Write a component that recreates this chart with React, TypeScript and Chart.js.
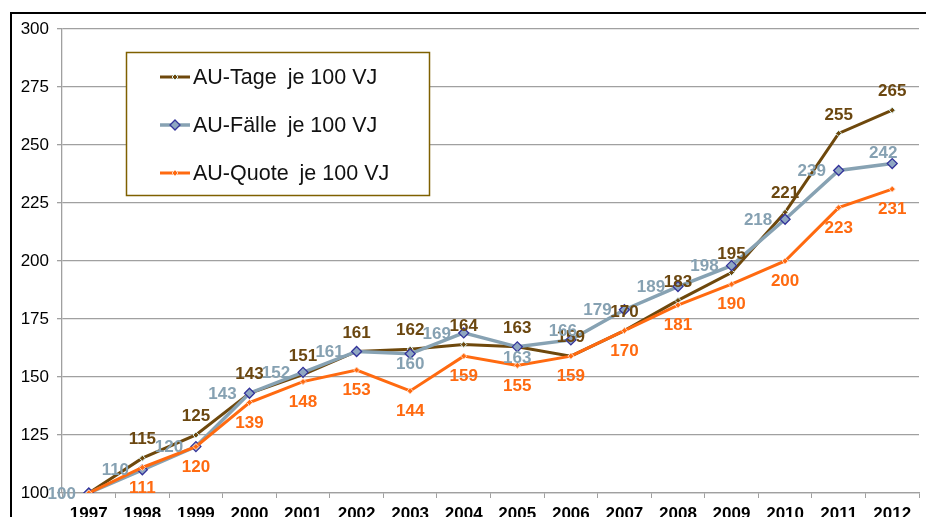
import React, { useEffect, useRef } from "react";
import { Chart, registerables } from "chart.js";

Chart.register(...registerables);

const YEARS = ["1997","1998","1999","2000","2001","2002","2003","2004","2005","2006","2007","2008","2009","2010","2011","2012"];
const AU_TAGE = [100,115,125,143,151,161,162,164,163,159,170,183,195,221,255,265];
const AU_FAELLE = [100,110,120,143,152,161,160,169,163,166,179,189,198,218,239,242];
const AU_QUOTE = [100,111,120,139,148,153,144,159,155,159,170,181,190,200,223,231];
const SERIES_HEAD = ["AU-Tage", "AU-Fälle", "AU-Quote"];
const SERIES_TAIL = "je 100 VJ";
const SERIES_NAMES = SERIES_HEAD.map((h) => `${h} ${SERIES_TAIL}`);
const FAELLE_LABEL_PLACE = ["left","left","left","left","left","left","below","left","below","upleft","left","left","left","left","left","above"];

const FONT = "'Liberation Sans', Arial, sans-serif";
const C_TAGE = "#6e480c";
const C_FAELLE = "#87a2b3";
const C_QUOTE = "#ff6a10";

const framePlugin = {
  id: "frame",
  beforeDraw(chart: any) {
    const ctx = chart.ctx;
    ctx.save();
    ctx.fillStyle = "#ffffff";
    ctx.fillRect(0, 0, chart.width, chart.height);
    ctx.fillStyle = "#000000";
    ctx.fillRect(10, 12, chart.width - 10, 2);
    ctx.fillRect(10, 12, 2, chart.height - 12);
    ctx.restore();
  },
};

const labelsPlugin = {
  id: "valueLabels",
  afterDatasetsDraw(chart: any) {
    const ctx = chart.ctx;
    ctx.save();
    ctx.font = `bold 17px ${FONT}`;
    ctx.textAlign = "center";
    ctx.textBaseline = "middle";
    chart.data.datasets.forEach((ds: any, di: number) => {
      const meta = chart.getDatasetMeta(di);
      meta.data.forEach((pt: any, i: number) => {
        if (di !== 1 && i === 0) return;
        const v = ds.data[i];
        let x = pt.x;
        let y = pt.y;
        if (di === 0) {
          y -= 18.5;
        } else if (di === 2) {
          y += 20.5;
        } else {
          const p = FAELLE_LABEL_PLACE[i];
          if (p === "left") { x -= 27; y += 1; }
          else if (p === "below") { y += 11; }
          else if (p === "upleft") { x -= 8; y -= 9; }
          else if (p === "above") { x -= 9; y -= 10; }
        }
        ctx.fillStyle = ds.labelColor;
        ctx.fillText(String(v), x, y);
      });
    });
    ctx.restore();
  },
};

const legendPlugin = {
  id: "boxLegend",
  afterDraw(chart: any) {
    const ctx = chart.ctx;
    ctx.save();
    ctx.fillStyle = "#ffffff";
    ctx.fillRect(126.5, 52.5, 303, 143);
    ctx.strokeStyle = "#7f6000";
    ctx.lineWidth = 1.5;
    ctx.strokeRect(126.5, 52.5, 303, 143);
    const rows = [77, 125, 173];
    chart.data.datasets.forEach((ds: any, di: number) => {
      const y = rows[di];
      ctx.strokeStyle = ds.borderColor;
      ctx.lineWidth = ds.borderWidth;
      ctx.beginPath();
      ctx.moveTo(160, y);
      ctx.lineTo(190, y);
      ctx.stroke();
      const r = ds.pointRadius;
      ctx.beginPath();
      ctx.moveTo(175, y - r);
      ctx.lineTo(175 + r, y);
      ctx.lineTo(175, y + r);
      ctx.lineTo(175 - r, y);
      ctx.closePath();
      ctx.fillStyle = ds.pointBackgroundColor;
      ctx.fill();
      ctx.strokeStyle = ds.pointBorderColor;
      ctx.lineWidth = ds.pointBorderWidth;
      ctx.stroke();
      ctx.fillStyle = "#111111";
      ctx.font = `21.5px ${FONT}`;
      ctx.textAlign = "left";
      ctx.textBaseline = "middle";
      const head = SERIES_HEAD[di];
      ctx.fillText(head, 193, y + 1);
      const w = ctx.measureText(head).width;
      ctx.fillText(SERIES_TAIL, 193 + w + 11, y + 1);
    });
    ctx.restore();
  },
};

export default function App() {
  const ref = useRef<HTMLCanvasElement | null>(null);
  useEffect(() => {
    document.body.style.margin = "0";
    const canvas = ref.current;
    if (!canvas) return;
    const chart = new Chart(canvas, {
      type: "line",
      data: {
        labels: YEARS,
        datasets: [
          {
            label: SERIES_NAMES[0],
            data: AU_TAGE,
            borderColor: C_TAGE,
            borderWidth: 3,
            pointStyle: "rectRot",
            pointRadius: 3,
            pointBackgroundColor: C_TAGE,
            pointBorderColor: "#d8f2f2",
            pointBorderWidth: 1,
            labelColor: "#6b4710",
            order: 3,
            tension: 0,
          } as any,
          {
            label: SERIES_NAMES[1],
            data: AU_FAELLE,
            borderColor: C_FAELLE,
            borderWidth: 3.5,
            pointStyle: "rectRot",
            pointRadius: 5,
            pointBackgroundColor: "#8fa7c2",
            pointBorderColor: "#33339a",
            pointBorderWidth: 1.3,
            labelColor: "#86a1b2",
            order: 2,
            tension: 0,
          } as any,
          {
            label: SERIES_NAMES[2],
            data: AU_QUOTE,
            borderColor: C_QUOTE,
            borderWidth: 3,
            pointStyle: "rectRot",
            pointRadius: 3,
            pointBackgroundColor: C_QUOTE,
            pointBorderColor: "#ffd2b8",
            pointBorderWidth: 1,
            labelColor: "#ff6a10",
            order: 1,
            tension: 0,
          } as any,
        ],
      },
      options: {
        responsive: false,
        animation: false,
        layout: { padding: { left: 0, right: 7, top: 29, bottom: 0 } },
        plugins: {
          legend: { display: false },
          tooltip: { enabled: false },
        },
        scales: {
          x: {
            offset: true,
            grid: {
              offset: true,
              drawOnChartArea: false,
              drawTicks: true,
              tickLength: 5,
              color: "#a0a0a0",
            },
            border: { display: true, color: "#a0a0a0", width: 1.3 },
            ticks: {
              color: "#000000",
              font: { family: FONT, size: 17, weight: "bold" },
              padding: 6,
              maxRotation: 0,
              autoSkip: false,
            },
            afterFit(scale: any) { scale.height = 24; },
          },
          y: {
            min: 100,
            max: 300,
            grid: {
              color: "#a0a0a0",
              lineWidth: 1.3,
              drawTicks: true,
              tickLength: 5,
            },
            border: { display: true, color: "#a0a0a0", width: 1.3 },
            ticks: {
              stepSize: 25,
              color: "#000000",
              font: { family: FONT, size: 17 },
              padding: 8,
            },
            afterFit(scale: any) { scale.width = 62; },
          },
        },
      },
      plugins: [framePlugin, labelsPlugin, legendPlugin],
    });
    return () => chart.destroy();
  }, []);
  return (
    <div style={{ width: 926, height: 517 }}>
      <canvas ref={ref} width={926} height={517} style={{ display: "block" }} />
    </div>
  );
}
